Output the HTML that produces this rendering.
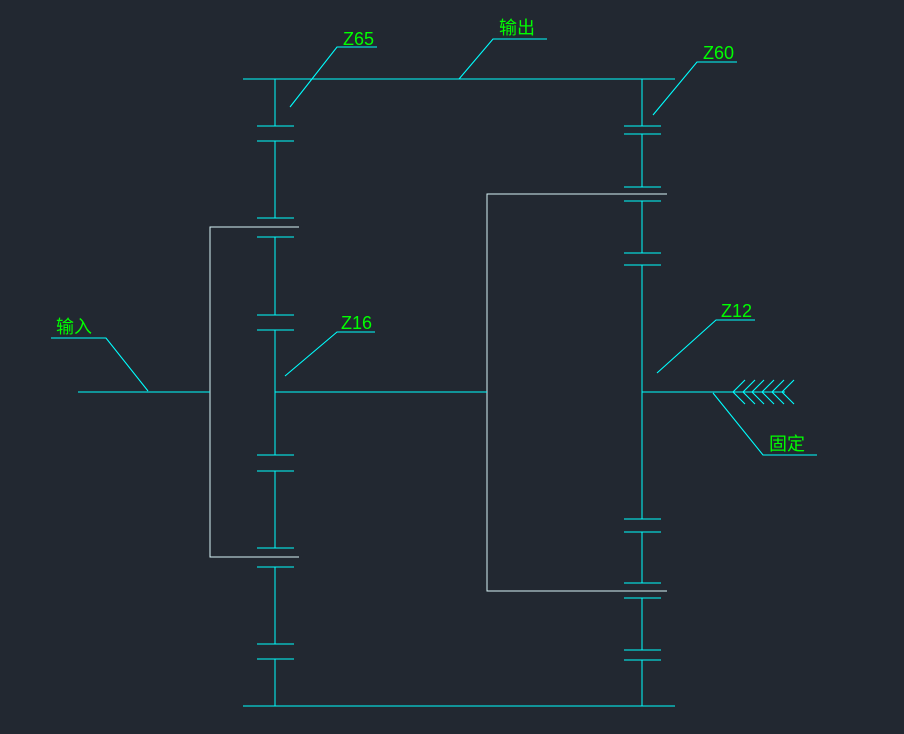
<!DOCTYPE html>
<html><head><meta charset="utf-8"><style>
html,body{margin:0;padding:0;background:#222831;}
svg{display:block}
text{font-family:"Liberation Sans","Noto Sans CJK SC",sans-serif;fill:#00ff00;font-size:18px}
</style></head><body>
<svg width="904" height="734" viewBox="0 0 904 734" xmlns="http://www.w3.org/2000/svg">
<g stroke="#00ffff" stroke-width="1.4" fill="none" shape-rendering="crispEdges">
<line x1="243" y1="79" x2="675" y2="79"/>
<line x1="243" y1="706" x2="675" y2="706"/>
<line x1="275" y1="79" x2="275" y2="126"/>
<line x1="275" y1="141" x2="275" y2="218"/>
<line x1="275" y1="237" x2="275" y2="315"/>
<line x1="275" y1="330" x2="275" y2="455"/>
<line x1="275" y1="471" x2="275" y2="548"/>
<line x1="275" y1="567" x2="275" y2="644"/>
<line x1="275" y1="659" x2="275" y2="706"/>
<g>
<line x1="257" y1="126" x2="294" y2="126"/><line x1="257" y1="141" x2="294" y2="141"/>
<line x1="257" y1="218" x2="294" y2="218"/><line x1="257" y1="237" x2="294" y2="237"/>
<line x1="257" y1="315" x2="294" y2="315"/><line x1="257" y1="330" x2="294" y2="330"/>
<line x1="257" y1="455" x2="294" y2="455"/><line x1="257" y1="471" x2="294" y2="471"/>
<line x1="257" y1="548" x2="294" y2="548"/><line x1="257" y1="567" x2="294" y2="567"/>
<line x1="257" y1="644" x2="294" y2="644"/><line x1="257" y1="659" x2="294" y2="659"/>
</g>
<polyline points="299,227 210,227 210,557 299,557" stroke="#d8f4f6"/>
<line x1="642" y1="79" x2="642" y2="126"/>
<line x1="642" y1="134" x2="642" y2="187"/>
<line x1="642" y1="201" x2="642" y2="253"/>
<line x1="642" y1="265" x2="642" y2="519"/>
<line x1="642" y1="532" x2="642" y2="583"/>
<line x1="642" y1="598" x2="642" y2="650"/>
<line x1="642" y1="660" x2="642" y2="706"/>
<g>
<line x1="624" y1="126" x2="661" y2="126"/><line x1="624" y1="134" x2="661" y2="134"/>
<line x1="624" y1="187" x2="661" y2="187"/><line x1="624" y1="201" x2="661" y2="201"/>
<line x1="624" y1="253" x2="661" y2="253"/><line x1="624" y1="265" x2="661" y2="265"/>
<line x1="624" y1="519" x2="661" y2="519"/><line x1="624" y1="532" x2="661" y2="532"/>
<line x1="624" y1="583" x2="661" y2="583"/><line x1="624" y1="598" x2="661" y2="598"/>
<line x1="624" y1="650" x2="661" y2="650"/><line x1="624" y1="660" x2="661" y2="660"/>
</g>
<polyline points="667,194 487,194 487,591 667,591" stroke="#d8f4f6"/>
<line x1="78" y1="392" x2="210" y2="392"/>
<line x1="275" y1="392" x2="487" y2="392"/>
<line x1="642" y1="392" x2="785" y2="392"/>
</g>
<g stroke="#00ffff" stroke-width="1.1" fill="none">
<path d="M745,380 L733,392 L745,404 M755,380 L743,392 L755,404 M764,380 L752,392 L764,404 M774,380 L762,392 L774,404 M784,380 L772,392 L784,404 M794,380 L782,392 L794,404"/>
<polyline points="377,47 337,47 290,107"/>
<polyline points="547,39 493,39 459,79"/>
<polyline points="737,62 697,62 653,115"/>
<polyline points="375,332 337,332 285,376"/>
<polyline points="755,320 716,320 657,373"/>
<polyline points="51,338 106,338 148,391"/>
<polyline points="817,455 763,455 713,393"/>
</g>
<text x="343" y="45" font-size="17">Z65</text>
<text x="499" y="34">输出</text>
<text x="703" y="59" font-size="17">Z60</text>
<text x="341" y="329" font-size="17">Z16</text>
<text x="721" y="317" font-size="17">Z12</text>
<text x="56" y="333">输入</text>
<text x="769" y="450">固定</text>
</svg>
</body></html>
